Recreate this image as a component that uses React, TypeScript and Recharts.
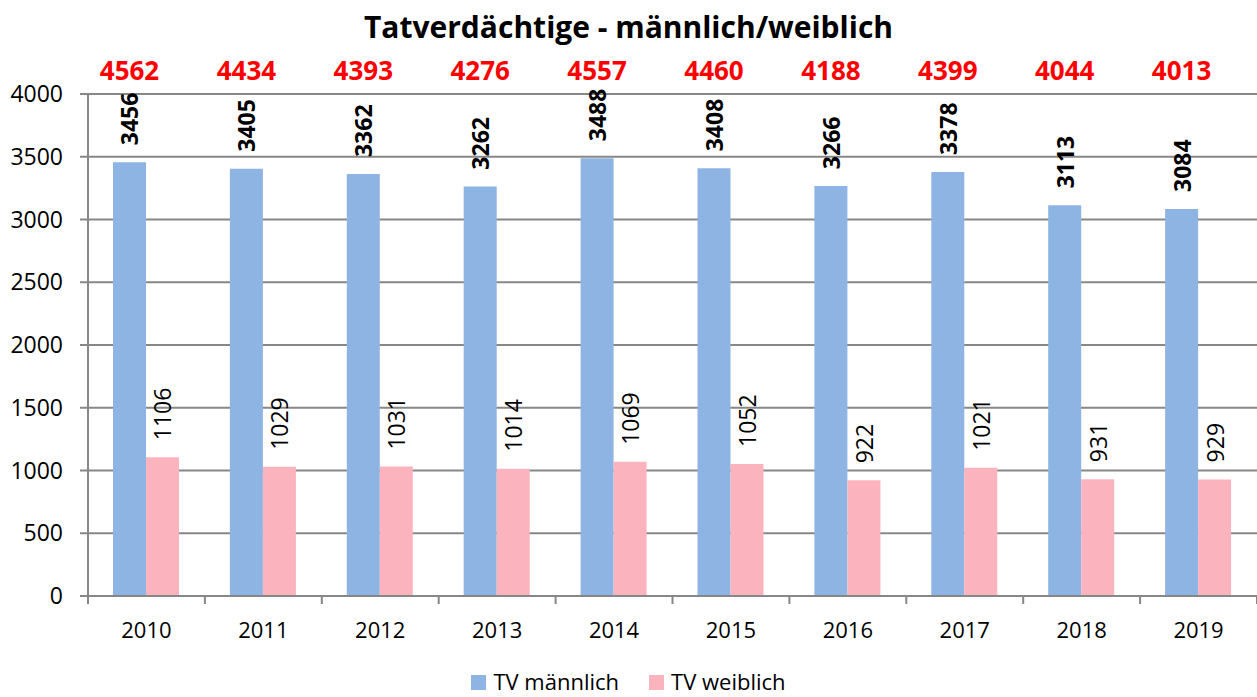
import React from 'react'
import { BarChart, Bar, XAxis, YAxis, CartesianGrid, Legend, LabelList } from 'recharts'

const years = ['2010', '2011', '2012', '2013', '2014', '2015', '2016', '2017', '2018', '2019']
const maleValues = [3456, 3405, 3362, 3262, 3488, 3408, 3266, 3378, 3113, 3084]
const femaleValues = [1106, 1029, 1031, 1014, 1069, 1052, 922, 1021, 931, 929]
const totalValues = [4562, 4434, 4393, 4276, 4557, 4460, 4188, 4399, 4044, 4013]
const yTicks = [0, 500, 1000, 1500, 2000, 2500, 3000, 3500, 4000]

const data = years.map((year, i) => ({
  year,
  male: maleValues[i],
  female: femaleValues[i],
  total: totalValues[i],
}))

const W = 1257
const H = 697
const PLOT_LEFT = 88
const PLOT_TOP = 94
const BAND = (W - PLOT_LEFT) / years.length
const FONT = '"Open Sans", sans-serif'
const GRID = '#878787'
const BLUE = '#8EB4E3'
const PINK = '#FBB4BE'

// x-Achse: Striche an den Kategoriegrenzen, Jahr in der Mitte
function YearTick(props: any) {
  const { x, y, payload, index } = props
  const left = x - BAND / 2
  return (
    <g>
      <line x1={left} x2={left} y1={y} y2={y + 8} stroke={GRID} strokeWidth={2} />
      {index === years.length - 1 && (
        <line x1={left + BAND} x2={left + BAND} y1={y} y2={y + 8} stroke={GRID} strokeWidth={2} />
      )}
      <text x={x} y={y + 42} textAnchor="middle" fontFamily={FONT} fontSize={22} fill="#000">
        {payload.value}
      </text>
    </g>
  )
}

function RotatedLabel(bold: boolean) {
  return (props: any) => {
    const { x, y, width, value } = props
    const cx = x + width / 2
    const cy = y - 17
    return (
      <text
        x={cx}
        y={cy}
        transform={`rotate(-90 ${cx} ${cy})`}
        textAnchor="start"
        dominantBaseline="central"
        fontFamily={FONT}
        fontSize={23}
        fontWeight={bold ? 700 : 400}
        fill="#000"
      >
        {value}
      </text>
    )
  }
}

function TotalLabel(props: any) {
  const { x, width, index } = props
  return (
    <text
      x={x + width / 2}
      y={80}
      textAnchor="middle"
      fontFamily={FONT}
      fontSize={26}
      fontWeight={700}
      fill="#FF0000"
    >
      {totalValues[index]}
    </text>
  )
}

function LegendContent() {
  const items = [
    { label: 'TV männlich', color: BLUE },
    { label: 'TV weiblich', color: PINK },
  ]
  return (
    <div
      style={{
        display: 'flex',
        justifyContent: 'center',
        alignItems: 'center',
        fontFamily: FONT,
        fontSize: 22,
        lineHeight: '30px',
        height: 30,
        gap: 30,
      }}
    >
      {items.map((it) => (
        <div key={it.label} style={{ display: 'flex', alignItems: 'center' }}>
          <span style={{ width: 15, height: 15, background: it.color, display: 'inline-block', marginRight: 7, marginTop: 3 }} />
          <span>{it.label}</span>
        </div>
      ))}
    </div>
  )
}

export default function App() {
  return (
    <div style={{ position: 'absolute', left: 0, top: 0, width: W, height: H, background: '#fff', overflow: 'hidden' }}>
      <div
        style={{
          position: 'absolute',
          left: 0,
          top: 7,
          width: W,
          textAlign: 'center',
          fontFamily: FONT,
          fontWeight: 700,
          fontSize: 30,
          lineHeight: '40px',
          color: '#000',
        }}
      >
        Tatverdächtige - männlich/weiblich
      </div>
      <BarChart
        width={W}
        height={H}
        data={data}
        margin={{ top: PLOT_TOP, right: 0, left: 0, bottom: 26 }}
        barSize={33}
        barGap={0}
      >
        <CartesianGrid vertical={false} stroke={GRID} strokeWidth={2} />
        <XAxis
          dataKey="year"
          height={45}
          tickSize={0}
          tickMargin={0}
          tick={<YearTick />}
          tickLine={false}
          axisLine={{ stroke: GRID, strokeWidth: 2 }}
          interval={0}
        />
        <YAxis
          domain={[0, 4000]}
          ticks={yTicks}
          width={PLOT_LEFT}
          tickSize={8}
          tickMargin={17}
          tickLine={{ stroke: GRID, strokeWidth: 2 }}
          axisLine={{ stroke: GRID, strokeWidth: 2 }}
          tick={{ fill: '#000', fontFamily: FONT, fontSize: 23 }}
          interval={0}
        />
        <Legend
          verticalAlign="bottom"
          content={<LegendContent />}
          wrapperStyle={{ top: 666, bottom: 'auto', height: 30, left: 0, width: W }}
        />
        <Bar dataKey="male" name="TV männlich" fill={BLUE} isAnimationActive={false}>
          <LabelList dataKey="male" content={RotatedLabel(true)} />
          <LabelList dataKey="total" content={<TotalLabel />} />
        </Bar>
        <Bar dataKey="female" name="TV weiblich" fill={PINK} isAnimationActive={false}>
          <LabelList dataKey="female" content={RotatedLabel(false)} />
        </Bar>
      </BarChart>
    </div>
  )
}
